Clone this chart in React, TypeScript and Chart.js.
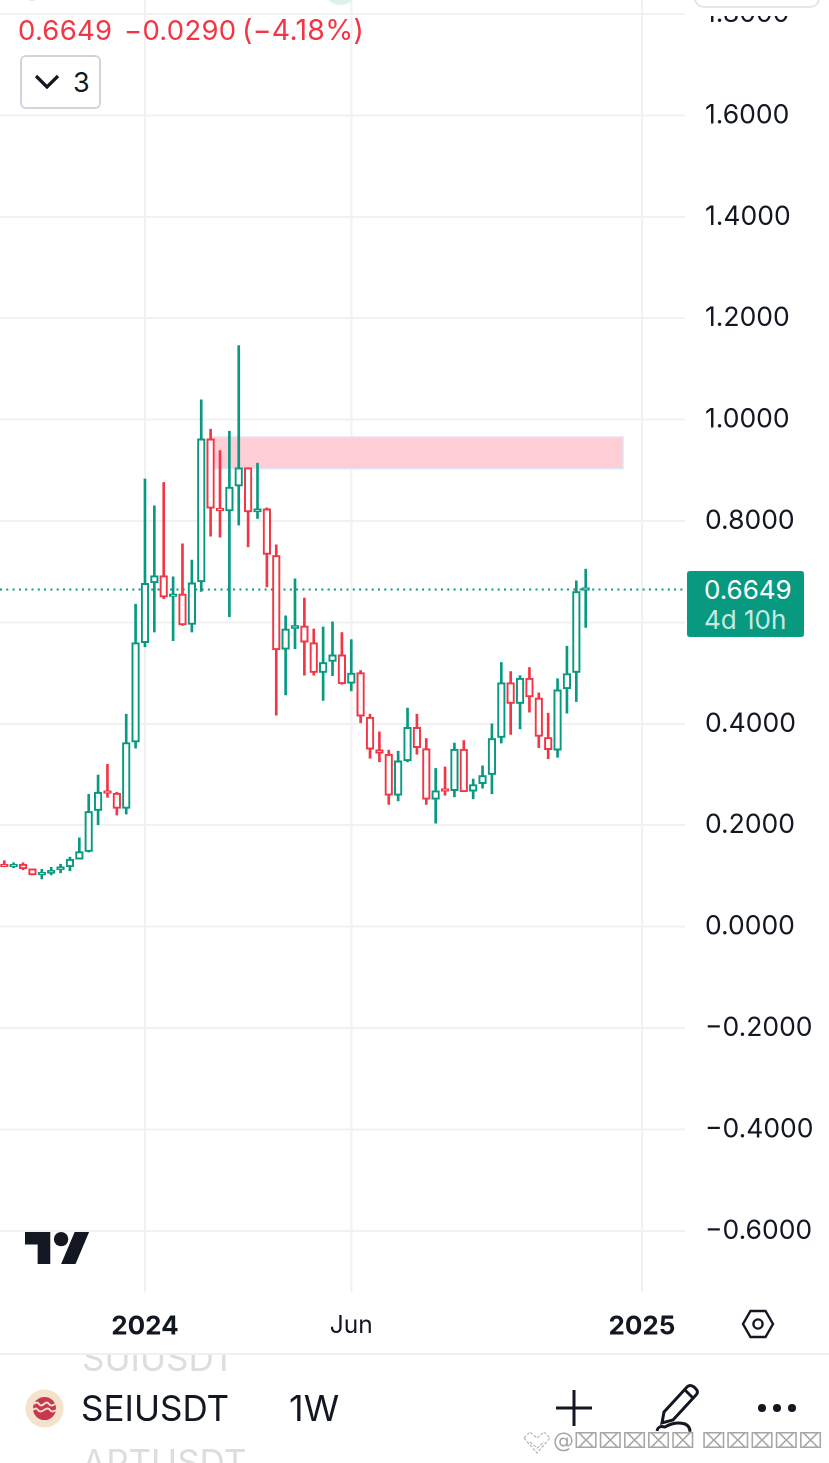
import React, { useEffect, useRef } from "react";
import { Chart, registerables } from "chart.js";

Chart.register(...registerables);

const weeks = [-15,-14,-13,-12,-11,-10,-9,-8,-7,-6,-5,-4,-3,-2,-1,0,1,2,3,4,5,6,7,8,9,10,11,12,13,14,15,16,17,18,19,20,21,22,23,24,25,26,27,28,29,30,31,32,33,34,35,36,37,38,39,40,41,42,43,44,45,46,47];
const opens = [.123,.118,.123,.114,.102,.105,.112,.118,.133,.148,.229,.267,.263,.233,.364,.560,.678,.692,.651,.656,.596,.680,.962,.824,.820,.869,.905,.818,.824,.732,.547,.588,.593,.560,.501,.523,.536,.480,.501,.413,.349,.340,.259,.327,.393,.351,.251,.269,.268,.350,.267,.282,.300,.373,.481,.440,.490,.451,.373,.348,.469,.501,.6635];
const highs = [.130,.126,.126,.114,.113,.117,.123,.137,.175,.261,.299,.320,.265,.419,.636,.883,.830,.876,.690,.755,.723,1.039,.981,.939,.977,1.146,.905,.914,.826,.753,.613,.686,.648,.587,.591,.601,.580,.566,.505,.419,.384,.348,.346,.431,.419,.371,.312,.315,.362,.367,.291,.317,.400,.521,.503,.495,.511,.461,.421,.489,.553,.682,.705];
const lows = [.118,.116,.112,.102,.094,.102,.106,.110,.133,.147,.201,.255,.220,.222,.352,.552,.581,.647,.564,.594,.581,.661,.770,.768,.611,.792,.749,.805,.670,.417,.457,.548,.496,.496,.446,.495,.478,.465,.402,.332,.325,.241,.248,.325,.340,.241,.204,.259,.256,.266,.252,.273,.262,.362,.379,.390,.423,.353,.331,.334,.421,.444,.590];
const closes = [.118,.123,.114,.102,.106,.111,.118,.133,.148,.227,.265,.263,.233,.363,.560,.677,.692,.650,.656,.595,.678,.962,.825,.820,.867,.905,.818,.824,.734,.546,.587,.594,.561,.501,.521,.536,.479,.500,.415,.350,.342,.259,.327,.393,.353,.251,.268,.267,.350,.266,.280,.298,.371,.481,.440,.490,.453,.375,.349,.467,.499,.661,.6649];

const yTicks = [1.8,1.6,1.4,1.2,1.0,0.8,0.6,0.4,0.2,0,-0.2,-0.4,-0.6];
const xTickWeeks = [0,22,53];
const xTickLabels = ["2024","Jun","2025"];
const lastPrice = 0.6649;
const priceLineWeeks = [-15.46,57.59];
const zoneWeeks = [6.93,50.98];
const zonePrices = [0.9032,0.9657];

const GREEN = "#089981";
const RED = "#F23645";
const GRID = "#f0f1f3";
const FONT = "Inter, 'Noto Sans', sans-serif";

const zonePlugin = {
  id: "zone",
  beforeDatasetsDraw(chart: any) {
    const { ctx, scales } = chart;
    const x0 = scales.x.getPixelForValue(zoneWeeks[0]);
    const x1 = scales.x.getPixelForValue(zoneWeeks[1]);
    const y0 = scales.y.getPixelForValue(zonePrices[1]);
    const y1 = scales.y.getPixelForValue(zonePrices[0]);
    ctx.save();
    ctx.fillStyle = "#ffcdd4";
    ctx.strokeStyle = "#e3e3f7";
    ctx.lineWidth = 1.5;
    ctx.fillRect(x0, y0, x1 - x0, y1 - y0);
    ctx.strokeRect(x0, y0, x1 - x0, y1 - y0);
    ctx.restore();
  },
};

function abs(left: number, top: number, extra: React.CSSProperties = {}): React.CSSProperties {
  return { position: "absolute", left, top, fontFamily: FONT, whiteSpace: "nowrap", ...extra };
}

export default function App() {
  const ref = useRef<HTMLCanvasElement | null>(null);
  useEffect(() => {
    const candleColors = opens.map((o, i) => (closes[i] >= o ? GREEN : RED));
    const chart = new Chart(ref.current as HTMLCanvasElement, {
      type: "bar",
      data: {
        datasets: [
          {
            type: "line",
            data: priceLineWeeks.map((w) => ({ x: w, y: lastPrice })),
            borderColor: GREEN,
            borderWidth: 2,
            borderDash: [2, 4.3],
            pointRadius: 0,
            order: 3,
          },
          {
            data: weeks.map((w, i) => ({ x: w, y: [lows[i], highs[i]] })),
            backgroundColor: candleColors,
            borderWidth: 0,
            barThickness: 2,
            grouped: false,
            order: 2,
          },
          {
            data: weeks.map((w, i) => ({ x: w, y: [opens[i], closes[i]] })),
            backgroundColor: "#ffffff",
            borderColor: candleColors,
            borderWidth: 2,
            borderSkipped: false,
            barThickness: 7.6,
            minBarLength: 2.5,
            grouped: false,
            order: 1,
          },
        ],
      } as any,
      options: {
        responsive: false,
        animation: false,
        devicePixelRatio: 2,
        layout: { padding: 0 },
        plugins: { legend: { display: false }, tooltip: { enabled: false } },
        scales: {
          x: {
            type: "linear",
            offset: false,
            min: -15.46,
            max: 57.59,
            afterBuildTicks(scale: any) {
              scale.ticks = xTickWeeks.map((value) => ({ value }));
            },
            afterFit(scale: any) {
              scale.height = 171;
              scale.paddingLeft = 0;
              scale.paddingRight = 0;
            },
            grid: { offset: false, color: GRID, lineWidth: 2, drawTicks: false },
            border: { display: false },
            ticks: {
              autoSkip: false,
              maxRotation: 0,
              padding: 19,
              color: "#131722",
              font: (c: any) => ({
                family: FONT,
                size: c.tick && c.tick.value === 22 ? 24.5 : 26,
                weight: c.tick && c.tick.value === 22 ? 400 : 700,
              }),
              callback: (v: any) => xTickLabels[xTickWeeks.indexOf(v)],
            },
          },
          y: {
            type: "linear",
            position: "right",
            min: -0.7207,
            max: 1.8276,
            afterBuildTicks(scale: any) {
              scale.ticks = yTicks.map((value) => ({ value }));
            },
            afterFit(scale: any) {
              scale.width = 144;
              scale.paddingTop = 0;
              scale.paddingBottom = 0;
            },
            grid: { color: GRID, lineWidth: 2, drawTicks: false },
            border: { display: false },
            ticks: {
              autoSkip: false,
              padding: 20,
              color: "#131722",
              font: { family: FONT, size: 26.5 },
              callback: (v: any) => (v < 0 ? "\u2212" : "") + Math.abs(v).toFixed(4),
            },
          },
        },
      } as any,
      plugins: [zonePlugin],
    });
    return () => chart.destroy();
  }, []);

  return (
    <div style={{ position: "absolute", left: 0, top: 0, width: 829, height: 1463, overflow: "hidden", background: "#fff" }}>
      <canvas ref={ref} width={829} height={1463} style={{ position: "absolute", left: 0, top: 0, width: 829, height: 1463 }} />

      {/* clipped top strip */}
      <div style={abs(690, 0, { width: 139, height: 16, background: "#fff" })} />
      <div style={abs(694, -30, { width: 126, height: 38, border: "2px solid #e3e5ee", borderRadius: 10, boxSizing: "border-box" })} />
      <div style={abs(25, -12, { width: 14, height: 13, borderRadius: "50%", background: "#f6e3cb" })} />
      <div style={abs(323, -30, { width: 35, height: 35, borderRadius: "50%", background: "#dcf2ee" })} />

      {/* header */}
      <div style={abs(18, 14, { color: RED, fontSize: 27.5, lineHeight: "32px", letterSpacing: 0.25 })}>0.6649</div>
      <div style={abs(124, 14, { color: RED, fontSize: 27.5, lineHeight: "32px", letterSpacing: 0.25 })}>−0.0290</div>
      <div style={abs(242, 14, { color: RED, fontSize: 28.5, lineHeight: "32px", letterSpacing: 0.25 })}>(−4.18%)</div>
      <div style={abs(20, 55, { width: 81, height: 54, border: "2px solid #d1d4dc", borderRadius: 6, boxSizing: "border-box", background: "#fff" })} />
      <svg style={abs(34, 74)} width="26" height="16" viewBox="0 0 26 16">
        <path d="M2 2 L13 13 L24 2" fill="none" stroke="#131722" strokeWidth="3.2" />
      </svg>
      <div style={abs(73, 66, { color: "#131722", fontSize: 27, lineHeight: "34px" })}>3</div>

      {/* price tag */}
      <div style={abs(687, 571, { width: 117, height: 66, background: GREEN, borderRadius: 3 })} />
      <div style={abs(704, 574, { color: "#fff", fontSize: 26, lineHeight: "32px" })}>0.6649</div>
      <div style={abs(704, 604, { color: "#c6e9e2", fontSize: 26, lineHeight: "32px" })}>4d 10h</div>

      {/* logo */}
      <svg style={abs(25, 1232)} width="65" height="32" viewBox="0 4 36 18" preserveAspectRatio="none">
        <path d="M14 22H7V11H0V4h14v18zM28 22h-8l7.5-18h8L28 22z" fill="#131722" />
        <circle cx="20" cy="8" r="4" fill="#131722" />
      </svg>

      {/* settings hexagon */}
      <svg style={abs(741, 1308)} width="34" height="32" viewBox="0 0 34 32">
        <path d="M9.5 3 H24.5 L32 16 L24.5 29 H9.5 L2 16 Z" fill="none" stroke="#131722" strokeWidth="2.4" />
        <circle cx="17" cy="16" r="4.6" fill="none" stroke="#131722" strokeWidth="2.4" />
      </svg>

      {/* bottom bar */}
      <div style={abs(0, 1353, { width: 829, height: 2, background: "#eff0f2" })} />
      <div style={abs(0, 1355, { width: 829, height: 108, overflow: "hidden" })}>
        <div style={abs(82, -17, { color: "#dcdde0", fontSize: 35, lineHeight: "40px" })}>SUIUSDT</div>
        <div style={abs(82, 87, { color: "#dcdde0", fontSize: 35, lineHeight: "40px" })}>APTUSDT</div>
      </div>
      <svg style={abs(25, 1389)} width="39" height="39" viewBox="0 0 39 39">
        <circle cx="19.5" cy="19.5" r="19" fill="#f4e2cb" />
        <circle cx="19.5" cy="19.5" r="11.5" fill="#c8364f" />
        <path d="M9 15 q3 -3 5 0 t5 0 t5 0 t6 0 M8 21 q3 -3 5 0 t6 0 t6 0 t6 0" fill="none" stroke="#f4e2cb" strokeWidth="2" />
      </svg>
      <div style={abs(81, 1388, { color: "#131722", fontSize: 35, lineHeight: "40px" })}>SEIUSDT</div>
      <div style={abs(289, 1388, { color: "#131722", fontSize: 36, lineHeight: "40px" })}>1W</div>
      <svg style={abs(555, 1389)} width="38" height="38" viewBox="0 0 38 38">
        <path d="M19 1 V37 M1 19 H37" stroke="#131722" strokeWidth="3" />
      </svg>
      <svg style={abs(653, 1383)} width="50" height="50" viewBox="0 0 50 50">
        <path d="M11 29 L34 4 Q37 1 41 4 L43 6 Q46 9 43 12 L20 37 L9 40 Z M32 7 L40 15" fill="none" stroke="#131722" strokeWidth="3" />
        <path d="M4 48 Q5 42 12 44 Q22 38 32 41 Q37 43 37 49" fill="none" stroke="#131722" strokeWidth="3" />
      </svg>
      <svg style={abs(757, 1401)} width="40" height="14" viewBox="0 0 40 14">
        <circle cx="5" cy="7" r="4" fill="#131722" />
        <circle cx="20" cy="7" r="4" fill="#131722" />
        <circle cx="35" cy="7" r="4" fill="#131722" />
      </svg>

      {/* watermark */}
      <svg style={abs(523, 1429)} width="28" height="26" viewBox="0 0 28 26">
        <path d="M1 9 L7 3 L14 9 L21 3 L27 9 L14 24 Z M7 13 L14 19 L21 13" fill="none" stroke="#b8b8b8" strokeWidth="1.2" strokeDasharray="3 1.5" />
      </svg>
      <div style={abs(553, 1426, { color: "#a6a6a6", fontFamily: "'DejaVu Sans'", fontSize: 21, lineHeight: "30px", textShadow: "0 0 2px #fff" })}>
        @⌧⌧⌧⌧⌧ ⌧⌧⌧⌧⌧
      </div>
    </div>
  );
}
